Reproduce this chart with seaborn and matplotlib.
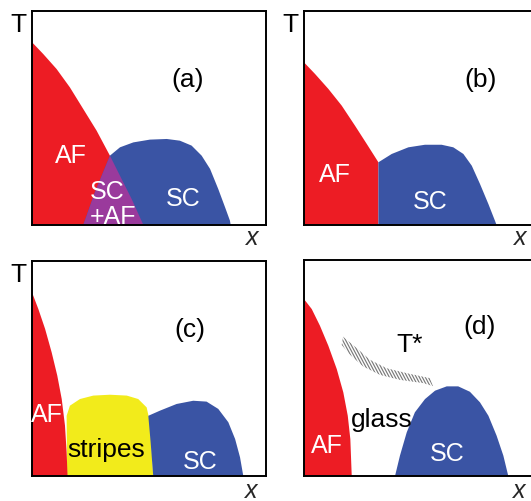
import matplotlib
matplotlib.use("Agg")
import numpy as np
import matplotlib.pyplot as plt
from matplotlib.patches import Polygon
from matplotlib.collections import LineCollection
import seaborn as sns

# --- colours of the phases ---
RED, BLUE, YELLOW, PURPLE = sns.color_palette(["#ED1C24", "#3A54A4", "#F2EB1B", "#9A3A9C"])

# --- phase boundaries (x and T both on 0..1) ---
# panel (a)
AF_A_X = [0, 0, 0.048, 0.105, 0.162, 0.219, 0.276, 0.333, 0.376, 0.426, 0.476]
AF_A_T = [0, 0.854, 0.799, 0.729, 0.643, 0.542, 0.441, 0.324, 0.23, 0.121, 0]
SC_A_X = [0.219, 0.269, 0.333, 0.376, 0.433, 0.504, 0.576, 0.632, 0.682, 0.725,
          0.761, 0.796, 0.825, 0.846, 0.849]
SC_A_T = [0, 0.153, 0.324, 0.363, 0.386, 0.399, 0.402, 0.394, 0.371, 0.324,
          0.262, 0.168, 0.083, 0.02, 0]
MIX_A_X = [0.219, 0.269, 0.333, 0.376, 0.426, 0.476]
MIX_A_T = [0, 0.153, 0.324, 0.23, 0.121, 0]

# panel (b)
AF_B_X = [0, 0, 0.047, 0.104, 0.161, 0.218, 0.268, 0.318, 0.318]
AF_B_T = [0, 0.76, 0.706, 0.636, 0.558, 0.464, 0.379, 0.293, 0]
SC_B_X = [0.318, 0.318, 0.375, 0.446, 0.517, 0.588, 0.638, 0.681, 0.717, 0.752,
          0.788, 0.816, 0.823]
SC_B_T = [0, 0.293, 0.332, 0.363, 0.375, 0.375, 0.363, 0.332, 0.277, 0.192,
          0.098, 0.02, 0]

# panel (c)
AF_C_X = [0, 0, 0.027, 0.056, 0.084, 0.108, 0.127, 0.141, 0.148, 0.152]
AF_C_T = [0, 0.854, 0.777, 0.684, 0.575, 0.467, 0.358, 0.234, 0.11, 0]
ST_C_X = [0.15, 0.148, 0.162, 0.205, 0.262, 0.333, 0.405, 0.454, 0.49, 0.504, 0.511, 0.518]
ST_C_T = [0, 0.28, 0.327, 0.358, 0.374, 0.378, 0.374, 0.358, 0.319, 0.25, 0.126, 0]
SC_C_X = [0.518, 0.507, 0.497, 0.547, 0.618, 0.689, 0.746, 0.796, 0.839, 0.868, 0.889, 0.903]
SC_C_T = [0, 0.157, 0.28, 0.304, 0.335, 0.35, 0.346, 0.312, 0.25, 0.172, 0.087, 0]

# panel (d)
AF_D_X = [0, 0, 0.033, 0.068, 0.104, 0.14, 0.168, 0.187, 0.198, 0.204]
AF_D_T = [0, 0.819, 0.773, 0.696, 0.603, 0.495, 0.387, 0.279, 0.171, 0]
SC_D_X = [0.389, 0.41, 0.439, 0.474, 0.517, 0.56, 0.61, 0.659, 0.709, 0.752,
          0.788, 0.823, 0.852, 0.873]
SC_D_T = [0, 0.094, 0.202, 0.295, 0.356, 0.395, 0.415, 0.415, 0.39, 0.341,
          0.279, 0.187, 0.094, 0]
TSTAR_X = [0.167, 0.225, 0.282, 0.353, 0.439, 0.538, 0.551, 0.51, 0.41, 0.325, 0.253, 0.197, 0.161]
TSTAR_T = [0.645, 0.592, 0.538, 0.499, 0.476, 0.453, 0.416, 0.43, 0.445, 0.468, 0.507, 0.561, 0.607]

sns.set_theme(style="white")
plt.rcParams["font.family"] = ["Liberation Sans", "DejaVu Sans"]

W, H = 531, 502
fig = plt.figure(figsize=(W / 100, H / 100), dpi=100)


def make_axes(left, top, bottom, width=234):
    # pixel box -> figure fraction
    ax = fig.add_axes([left / W, 1 - bottom / H, width / W, (bottom - top) / H])
    ax.set_xlim(0, 1)
    ax.set_ylim(0, 1)
    ax.set_xticks([])
    ax.set_yticks([])
    for s in ax.spines.values():
        s.set_color("black")
        s.set_linewidth(1.4)
        s.set_zorder(10)
    return ax


def label(ax, x, y, s, color="black", size=18, **kw):
    ax.text(x, y, s, transform=ax.transAxes, ha="center", va="center",
            color=color, fontsize=size, clip_on=False, zorder=12, **kw)


def xlabel(ax, x, y):
    ax.text(x, y, "x", transform=ax.transAxes, ha="center", va="baseline",
            fontsize=18, style="italic", clip_on=False, zorder=12)


ax_a = make_axes(32, 12, 226)
ax_b = make_axes(304, 12, 226)
ax_c = make_axes(32, 262, 477)
ax_d = make_axes(304, 261, 477)

# (a)
ax_a.fill(AF_A_X, AF_A_T, color=RED, lw=0)
ax_a.fill(SC_A_X, SC_A_T, color=BLUE, lw=0)
ax_a.fill(MIX_A_X, MIX_A_T, color=PURPLE, lw=0)
label(ax_a, 0.667, 0.682, "(a)", size=19)
label(ax_a, 0.168, 0.328, "AF", "white")
label(ax_a, 0.32, 0.158, "SC", "white")
label(ax_a, 0.345, 0.04, "+AF", "white")
label(ax_a, 0.645, 0.125, "SC", "white")
label(ax_a, -0.058, 0.94, "T", size=19)
xlabel(ax_a, 0.943, -0.089)

# (b)
ax_b.fill(AF_B_X, AF_B_T, color=RED, lw=0)
ax_b.fill(SC_B_X, SC_B_T, color=BLUE, lw=0)
label(ax_b, 0.756, 0.68, "(b)", size=19)
label(ax_b, 0.132, 0.238, "AF", "white")
label(ax_b, 0.541, 0.11, "SC", "white")
label(ax_b, -0.06, 0.94, "T", size=19)
xlabel(ax_b, 0.925, -0.089)

# (c)
ax_c.fill(ST_C_X, ST_C_T, color=YELLOW, lw=0)
ax_c.fill(AF_C_X, AF_C_T, color=RED, lw=0)
ax_c.fill(SC_C_X, SC_C_T, color=BLUE, lw=0)
label(ax_c, 0.675, 0.682, "(c)", size=19)
label(ax_c, 0.063, 0.287, "AF", "white")
label(ax_c, 0.319, 0.127, "stripes", size=19)
label(ax_c, 0.718, 0.072, "SC", "white")
label(ax_c, -0.058, 0.94, "T", size=19)
xlabel(ax_c, 0.939, -0.096)

# (d)
ax_d.fill(AF_D_X, AF_D_T, color=RED, lw=0)
ax_d.fill(SC_D_X, SC_D_T, color=BLUE, lw=0)
# T* crossover band: a polygon filled with steep grey hatch strokes
band = Polygon(list(zip(TSTAR_X, TSTAR_T)), closed=True, facecolor="none",
               edgecolor="none", transform=ax_d.transData)
ax_d.add_patch(band)
ang = np.deg2rad(62)
dx, dy = np.cos(ang) / 234, -np.sin(ang) / 216
segs = [[(x0 - 40 * dx, 0.55 - 40 * dy), (x0 + 40 * dx, 0.55 + 40 * dy)]
        for x0 in np.arange(0.05, 0.7, 3.0 / 234)]
strokes = LineCollection(segs, colors="#7a7a7a", linewidths=0.85, transform=ax_d.transData)
ax_d.add_collection(strokes)
strokes.set_clip_path(band)
label(ax_d, 0.453, 0.61, "T*", size=19)
label(ax_d, 0.752, 0.694, "(d)", size=19)
label(ax_d, 0.332, 0.262, "glass", size=19)
label(ax_d, 0.097, 0.145, "AF", "white")
label(ax_d, 0.61, 0.105, "SC", "white")
xlabel(ax_d, 0.922, -0.095)

fig.savefig("out.png", dpi=100)
